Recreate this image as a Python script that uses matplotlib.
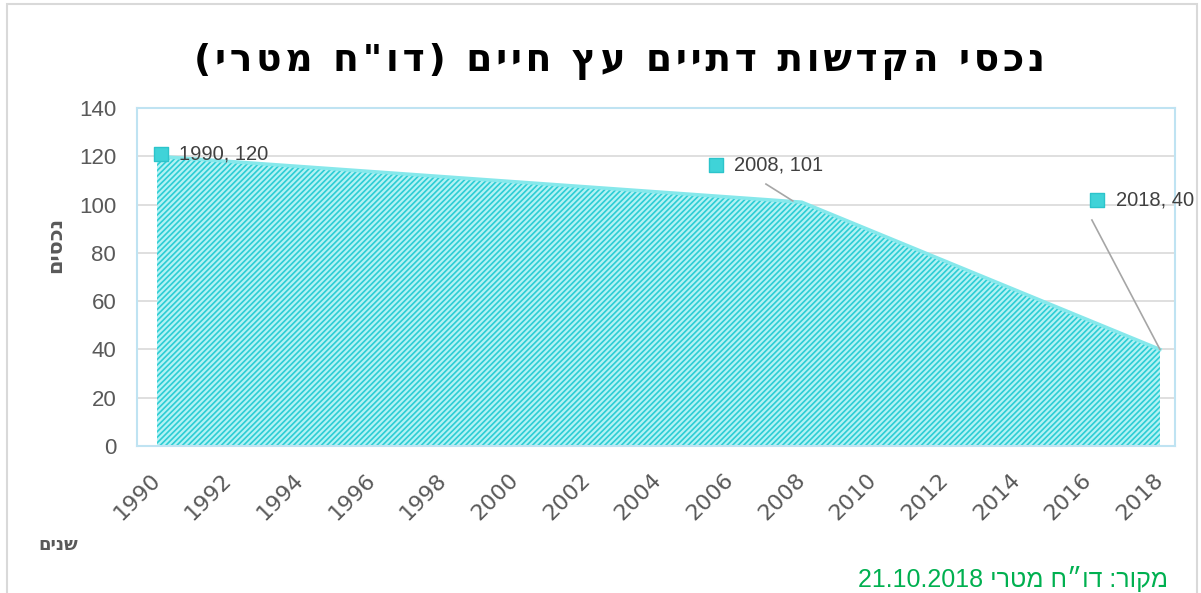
import matplotlib
matplotlib.use("Agg")
import matplotlib.pyplot as plt
from matplotlib.patches import Rectangle

# data
years = [1990, 2008, 2018]
assets = [120, 101, 40]
year_ticks = list(range(1990, 2019, 2))
y_ticks = [0, 20, 40, 60, 80, 100, 120, 140]

# Hebrew strings in visual (left-to-right) order, matplotlib has no bidi
title = '(ירטמ ח"וד) םייח ץע םייתד תושדקה יסכנ'
y_label = "םיסכנ"
x_label = "םינש"
source = "21.10.2018 ירטמ ח״וד :רוקמ"

cyan = "#3fd3d8"
gray_txt = "#595959"

plt.rcParams["font.family"] = ["Liberation Sans", "DejaVu Sans"]
plt.rcParams["hatch.linewidth"] = 1.2

fig = plt.figure(figsize=(12.01, 5.93), dpi=100)
ax = fig.add_axes([137 / 1201, 1 - 446 / 593, (1175 - 137) / 1201, (446 - 108) / 593])

ax.fill_between(years, assets, 0, facecolor="#b3f2f4", edgecolor="#2ccdd4",
                hatch="//////", linewidth=0, zorder=2)
ax.plot(years, assets, color="#86e8eb", linewidth=2.5, zorder=3)

ax.set_xlim(1989.44, 2018.42)
ax.set_ylim(0, 140)
ax.set_xticks(year_ticks)
ax.set_xticklabels([str(t) for t in year_ticks], rotation=45, rotation_mode="anchor",
                   ha="right", va="center", fontsize=16, fontfamily="DejaVu Sans",
                   color=gray_txt)
ax.set_yticks(y_ticks)
ax.grid(axis="y", color="#d9d9d9", linewidth=1.2, zorder=0)
ax.tick_params(length=0, labelcolor=gray_txt)
ax.tick_params(axis="y", labelsize=16, pad=15)
ax.tick_params(axis="x", pad=22)
for s in ax.spines.values():
    s.set_color("#bfe3f2")
    s.set_linewidth(1.5)

# data labels with marker square and leader lines
label_pos = [(1990.1, 121), (2005.6, 116.5), (2016.25, 102)]
leaders = [None, ((2007.0, 108.5), (2007.75, 101.5)), ((2016.1, 93.6), (2018, 40))]
for (x, y), (lx, ly), ld in zip(zip(years, assets), label_pos, leaders):
    ax.scatter([lx], [ly], marker="s", s=100, color=cyan, edgecolor="#2cc4cb",
               zorder=5, clip_on=False)
    ax.text(lx + 0.52, ly, f"{x}, {y}", fontsize=14.5, color="#404040", va="center",
            ha="left", zorder=5)
    if ld is not None:
        ax.plot([ld[0][0], ld[1][0]], [ld[0][1], ld[1][1]], color="#a6a6a6",
                linewidth=1.2, zorder=4, clip_on=False)

spaced_title = "\u200a".join(title)
fig.text(620 / 1201, 1 - 62 / 593, spaced_title, ha="center", va="center",
         fontsize=27, fontweight="bold", color="black", family=["DejaVu Sans"])
fig.text(55 / 1201, 1 - 245 / 593, y_label, rotation=90, ha="center", va="center",
         fontsize=15, fontweight="bold", color=gray_txt, family=["DejaVu Sans"])
fig.text(58 / 1201, 1 - 545 / 593, x_label, ha="center", va="center",
         fontsize=13, fontweight="bold", color=gray_txt, family=["DejaVu Sans"])
fig.text(1168 / 1201, 1 - 579 / 593, source, ha="right", va="center",
         fontsize=18, color="#00b050")

fig.patches.append(Rectangle((7 / 1201, -0.1), (1197 - 7) / 1201, 1.1 - 4 / 593,
                             transform=fig.transFigure, fill=False,
                             edgecolor="#d9d9d9", linewidth=1.5))

fig.savefig("out.png", dpi=100)
